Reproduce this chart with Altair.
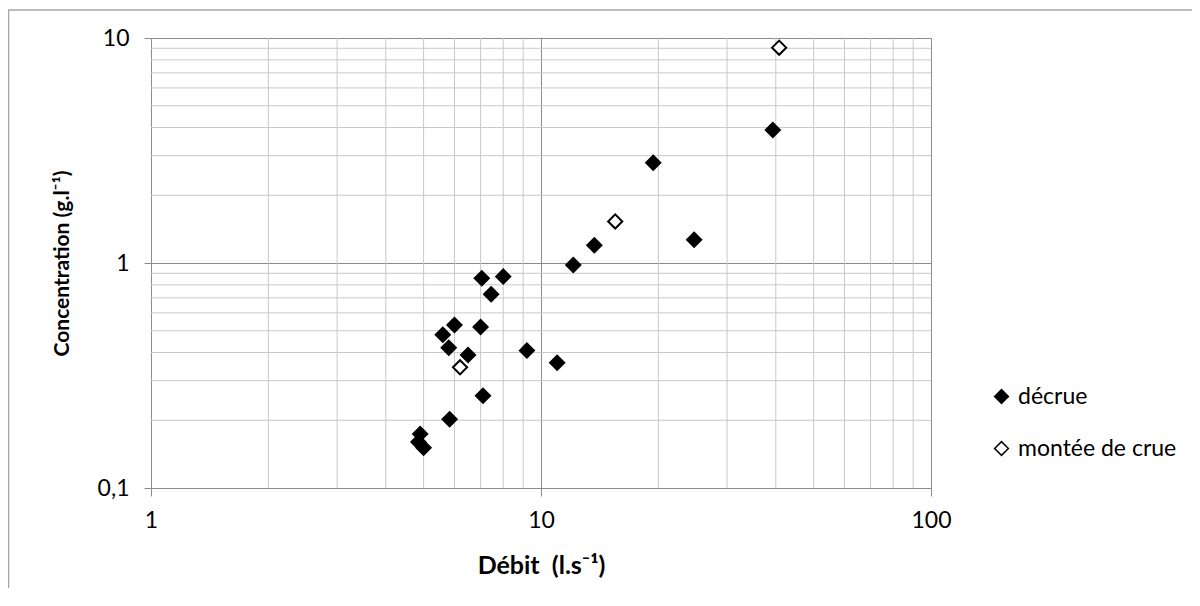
import altair as alt
import pandas as pd

# ---- data ----
series_names = ["décrue", "montée de crue"]

decrue_debit = [4.9, 4.85, 5.0, 5.6, 5.8, 5.83, 6.0, 6.5, 7.0, 7.05, 7.1, 7.45, 8.0, 9.2, 11.0, 12.1, 13.7, 19.4, 24.7, 39.3]
decrue_conc = [0.174, 0.16, 0.151, 0.48, 0.42, 0.202, 0.53, 0.39, 0.52, 0.855, 0.257, 0.726, 0.87, 0.408, 0.36, 0.98, 1.2, 2.79, 1.27, 3.9]

montee_debit = [6.2, 15.5, 40.8]
montee_conc = [0.344, 1.53, 9.06]

x_major = [1, 10, 100]
y_major = [0.1, 1, 10]
x_minor = [2, 3, 4, 5, 6, 7, 8, 9, 20, 30, 40, 50, 60, 70, 80, 90]
y_minor = [0.2, 0.3, 0.4, 0.5, 0.6, 0.7, 0.8, 0.9, 2, 3, 4, 5, 6, 7, 8, 9]

df = pd.DataFrame({
    "debit": decrue_debit + montee_debit,
    "conc": decrue_conc + montee_conc,
    "serie": [series_names[0]] * len(decrue_debit) + [series_names[1]] * len(montee_debit),
})

FONT = "Lato"
MAJOR = "#8c8c8c"
MINOR = "#c8c8c8"

xscale = alt.Scale(type="log", domain=[1, 100], nice=False)
yscale = alt.Scale(type="log", domain=[0.1, 10], nice=False)

label_expr = "replace(format(datum.value, '~g'), '.', ',')"

x_axis = alt.Axis(
    values=x_major, grid=True, gridColor=MAJOR, gridWidth=1,
    domainColor=MAJOR, tickColor=MAJOR, tickSize=8,
    labelFont=FONT, labelFontSize=23, labelColor="#000", labelPadding=13,
    labelExpr=label_expr, labelFlush=False,
    title="Débit\u00a0\u00a0(l.s⁻¹)", titleFont=FONT, titleFontSize=25, titleFontWeight="bold",
    titleColor="#000", titleX=390, titleY=77, titleBaseline="middle", titleAlign="center",
)
y_axis = alt.Axis(
    values=y_major, grid=True, gridColor=MAJOR, gridWidth=1,
    domainColor=MAJOR, tickColor=MAJOR, tickSize=7,
    labelFont=FONT, labelFontSize=23, labelColor="#000", labelPadding=15,
    labelExpr=label_expr, labelFlush=False,
    title="Concentration (g.l⁻¹)", titleFont=FONT, titleFontSize=21, titleFontWeight="bold",
    titleColor="#000", titleX=-89, titleY=225, titleBaseline="middle", titleAlign="center",
    titleAngle=270,
)

vgrid = alt.Chart(pd.DataFrame({"v": x_minor})).mark_rule(color=MINOR, strokeWidth=1).encode(
    x=alt.X("v:Q", scale=xscale, axis=x_axis)
)
hgrid = alt.Chart(pd.DataFrame({"v": y_minor})).mark_rule(color=MINOR, strokeWidth=1).encode(
    y=alt.Y("v:Q", scale=yscale, axis=y_axis)
)

legend = alt.Legend(title=None, symbolStrokeWidth=1.5)
points = alt.Chart(df).mark_point(filled=True, size=200, strokeWidth=2, opacity=1).encode(
    x=alt.X("debit:Q", scale=xscale, axis=x_axis),
    y=alt.Y("conc:Q", scale=yscale, axis=y_axis),
    fill=alt.Fill("serie:N", scale=alt.Scale(domain=series_names, range=["#000000", "#ffffff"]),
                  legend=legend),
    shape=alt.Shape("serie:N", scale=alt.Scale(domain=series_names, range=["diamond", "diamond"]),
                    legend=legend),
    stroke=alt.Stroke("serie:N", scale=alt.Scale(domain=series_names, range=["#000000", "#000000"]),
                      legend=legend),
)

border = alt.Chart(pd.DataFrame({"a": [0]}))
border_left = border.mark_rule(color="#a6a6a6", strokeWidth=1.5).encode(
    x=alt.value(-142.5), x2=alt.value(-142.5), y=alt.value(-28), y2=alt.value(570)
)
border_top = border.mark_rule(color="#a6a6a6", strokeWidth=1.5).encode(
    x=alt.value(-143), x2=alt.value(1060), y=alt.value(-28), y2=alt.value(-28)
)

chart = alt.layer(vgrid, hgrid, points, border_left, border_top).properties(
    width=780,
    height=450,
    autosize=alt.AutoSizeParams(type="none"),
    padding={"left": 143, "top": 30, "right": 261, "bottom": 100},
).configure_view(stroke=None).configure_legend(
    orient="none", legendX=839, legendY=347, padding=0,
    labelFont=FONT, labelFontSize=23, labelColor="#000", labelOffset=5,
    symbolSize=190, rowPadding=28,
)

chart.save("out.html", embed_options={"renderer": "svg", "actions": False})
